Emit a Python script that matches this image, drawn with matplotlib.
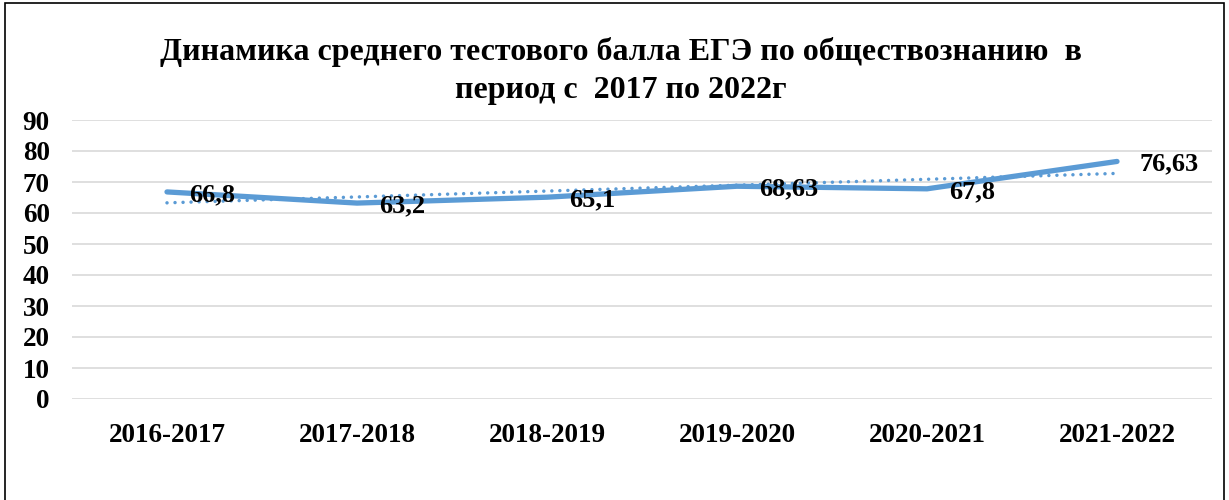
import numpy as np
import matplotlib
matplotlib.use("Agg")
import matplotlib.pyplot as plt
from matplotlib.patches import Rectangle

# ── Data ──────────────────────────────────────────────────────────────────────
years = ["2016-2017", "2017-2018", "2018-2019", "2019-2020", "2020-2021", "2021-2022"]
scores = [66.8, 63.2, 65.1, 68.63, 67.8, 76.63]
labels = ["66,8", "63,2", "65,1", "68,63", "67,8", "76,63"]
yticks = [0, 10, 20, 30, 40, 50, 60, 70, 80, 90]

TITLE = "Динамика среднего тестового балла ЕГЭ по обществознанию  в\nпериод с  2017 по 2022г"
LINE_C = "#5B9BD5"
GRID_C = "#D9D9D9"

plt.rcParams["font.family"] = ["Liberation Serif", "DejaVu Serif"]
plt.rcParams["font.weight"] = "bold"

fig = plt.figure(figsize=(12.29, 5.0), dpi=100)
W, H = 1229, 500
# plot area in pixels: x 72..1212, y(90)=120, y(0)=399
ax = fig.add_axes([72 / W, 1 - 399 / H, (1212 - 72) / W, (399 - 120) / H])

x = np.arange(len(years))
ax.plot(x, scores, color=LINE_C, lw=3.8, solid_capstyle="round", zorder=3)

# linear trendline (Excel-style)
k, b = np.polyfit(x, scores, 1)
ax.plot(x, k * x + b, color=LINE_C, lw=2.5, ls=(0, (0.01, 2.3)),
        dash_capstyle="round", zorder=2)

for xi, yi, lab in zip(x, scores, labels):
    ax.annotate(lab, (xi, yi), xytext=(16, -2), textcoords="offset points",
                ha="left", va="center", fontsize=19, fontweight="bold", zorder=4)

ax.set_xlim(-0.5, len(years) - 0.5)
ax.set_ylim(0, 90)
ax.set_yticks(yticks)
ax.set_xticks(x)
ax.set_xticklabels(years)
ax.tick_params(axis="both", length=0, labelsize=19.5)
ax.tick_params(axis="x", pad=17)
ax.tick_params(axis="y", pad=16)
ax.yaxis.grid(True, color=GRID_C, lw=1.2)
ax.set_axisbelow(True)
for s in ax.spines.values():
    s.set_visible(False)

fig.text(621 / W, 1 - 71 / H, TITLE, ha="center", va="center", fontsize=23,
         fontweight="bold", linespacing=1.4)

fig.patches.append(Rectangle((5 / W, -0.05), (1224 - 5) / W, 1 - 3 / H + 0.05,
                             transform=fig.transFigure, fill=False,
                             edgecolor="black", lw=1.2))

fig.savefig("out.png", dpi=100, facecolor="white")
